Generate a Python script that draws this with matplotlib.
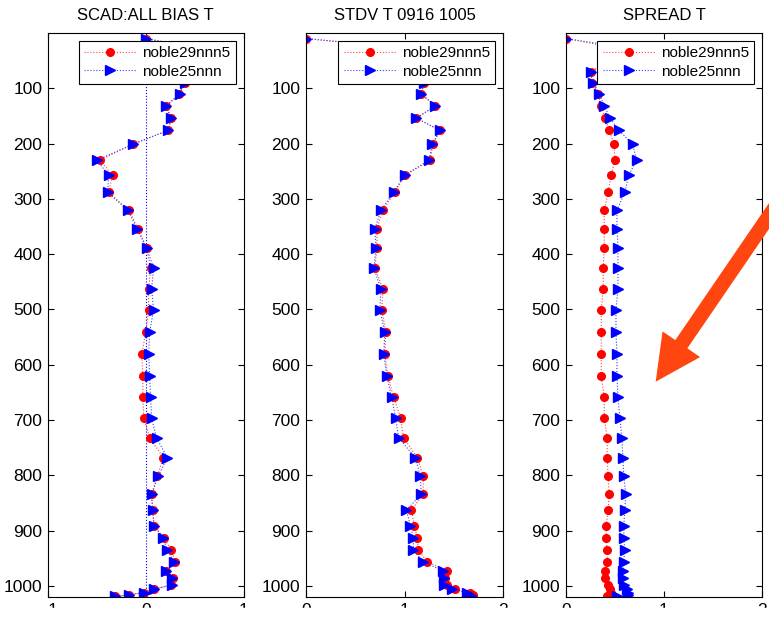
import numpy as np
import matplotlib
matplotlib.use("Agg")
import matplotlib.pyplot as plt
from matplotlib.patches import FancyArrow, Rectangle

plt.rcParams["font.family"] = ["Liberation Sans", "DejaVu Sans"]

# pressure levels (hPa)
levels = [10, 30, 50, 70, 90, 110, 132, 154, 176, 201, 230, 257, 288, 321, 354,
          389, 425, 463, 501, 541, 580, 620, 659, 696, 732, 768, 801, 834, 863,
          891, 914, 935, 956, 973, 986, 998, 1006, 1012, 1016, 1019]

names = ["noble29nnn5", "noble25nnn"]
titles = ["SCAD:ALL BIAS T", "STDV T 0916 1005", "SPREAD T"]

bias_29 = [0.0, 0.6, 0.5, 0.45, 0.4, 0.34, 0.21, 0.26, 0.23, -0.13, -0.47, -0.34,
           -0.38, -0.17, -0.08, 0.01, 0.05, 0.03, 0.03, 0.0, -0.04, -0.03, -0.03,
           -0.02, 0.04, 0.18, 0.12, 0.06, 0.07, 0.085, 0.19, 0.26, 0.30, 0.21,
           0.28, 0.26, 0.085, -0.02, -0.17, -0.31]
bias_25 = [0.0, 0.6, 0.5, 0.45, 0.4, 0.35, 0.21, 0.26, 0.23, -0.13, -0.50, -0.38,
           -0.39, -0.18, -0.09, 0.01, 0.08, 0.06, 0.08, 0.04, 0.03, 0.04, 0.05,
           0.06, 0.11, 0.22, 0.13, 0.06, 0.07, 0.085, 0.18, 0.22, 0.29, 0.21,
           0.27, 0.27, 0.085, -0.02, -0.17, -0.31]

stdv_29 = [0.0, 1.15, 1.3, 1.25, 1.2, 1.17, 1.31, 1.12, 1.36, 1.29, 1.26, 1.01,
           0.90, 0.78, 0.72, 0.72, 0.70, 0.78, 0.77, 0.81, 0.80, 0.83, 0.89, 0.96,
           0.99, 1.13, 1.19, 1.19, 1.07, 1.10, 1.13, 1.14, 1.23, 1.43, 1.41, 1.43,
           1.51, 1.67, 1.70, 1.70]
stdv_25 = [0.0, 1.15, 1.3, 1.25, 1.2, 1.17, 1.31, 1.12, 1.36, 1.28, 1.25, 1.00,
           0.89, 0.76, 0.70, 0.71, 0.69, 0.76, 0.75, 0.80, 0.79, 0.82, 0.87, 0.91,
           0.94, 1.11, 1.16, 1.17, 1.02, 1.06, 1.09, 1.09, 1.19, 1.39, 1.40, 1.40,
           1.48, 1.63, 1.67, 1.68]

spread_29 = [0.0, 0.6, 0.45, 0.25, 0.27, 0.33, 0.36, 0.40, 0.44, 0.49, 0.50, 0.46,
             0.43, 0.39, 0.39, 0.39, 0.38, 0.38, 0.36, 0.36, 0.36, 0.36, 0.39, 0.39,
             0.42, 0.42, 0.43, 0.44, 0.43, 0.41, 0.41, 0.42, 0.42, 0.40, 0.40, 0.43,
             0.45, 0.46, 0.46, 0.42]
spread_25 = [0.0, 0.74, 0.5, 0.26, 0.28, 0.34, 0.39, 0.45, 0.54, 0.68, 0.72, 0.64,
             0.60, 0.52, 0.52, 0.53, 0.53, 0.53, 0.51, 0.51, 0.52, 0.52, 0.53, 0.55,
             0.57, 0.58, 0.59, 0.61, 0.60, 0.59, 0.59, 0.60, 0.59, 0.58, 0.58, 0.59,
             0.62, 0.63, 0.63, 0.52]

panels = [(bias_29, bias_25, (-1, 1), [-1, 0, 1]),
          (stdv_29, stdv_25, (0, 2), [0, 1, 2]),
          (spread_29, spread_25, (0, 2), [0, 1, 2])]

W, H = 769, 620
fig = plt.figure(figsize=(W / 100, H / 100), dpi=100)

lefts = [48, 306, 566]
widths = [195.5, 197, 196]
top, bottom = 33, 597

for i, (red, blue, xlim, xt) in enumerate(panels):
    ax = fig.add_axes([lefts[i] / W, (H - bottom) / H, widths[i] / W, (bottom - top) / H])
    if i == 0:
        ax.axvline(0, color="blue", ls=":", lw=0.8)
    ax.plot(red, levels, ls=":", lw=0.8, color="#ff4040", marker="o", ms=5.5,
            mfc="red", mec="red", label=names[0])
    ax.plot(blue, levels, ls=":", lw=0.8, color="#3040ff", marker=">", ms=6.5,
            mfc="blue", mec="blue", label=names[1])
    ax.set_xlim(*xlim)
    ax.set_xticks(xt)
    ax.set_ylim(1020, 0)
    ax.set_yticks(np.arange(100, 1001, 100))
    ax.tick_params(direction="in", length=4, width=0.8, top=True, right=True,
                   labelsize=12.5, pad=4)
    for s in ax.spines.values():
        s.set_linewidth(0.8)
    ax.set_title(titles[i], fontsize=12, pad=9)
    leg = ax.legend(loc="upper right", fontsize=11, fancybox=False, framealpha=1,
                    edgecolor="black", handlelength=3.4, handletextpad=0.4,
                    borderaxespad=0.5, labelspacing=0.3, borderpad=0.35)
    leg.get_frame().set_linewidth(0.8)

# orange annotation arrow (inches, y up)
tip = np.array([655.7, H - 381.7]) / 100
vec = np.array([113.3, 165.7]) / 100
tail = tip + 1.6 * vec
arrow = FancyArrow(tail[0], tail[1], tip[0] - tail[0], tip[1] - tail[1],
                   width=0.146, head_width=0.455, head_length=0.454,
                   length_includes_head=True, color="#ff4510", lw=0,
                   transform=fig.dpi_scale_trans)
fig.add_artist(arrow)

# the source screenshot is cut off just below the x tick labels
fig.add_artist(Rectangle((0, 0), 1, 12 / H, transform=fig.transFigure,
                         color="white", zorder=10))

fig.savefig("out.png", dpi=100)
